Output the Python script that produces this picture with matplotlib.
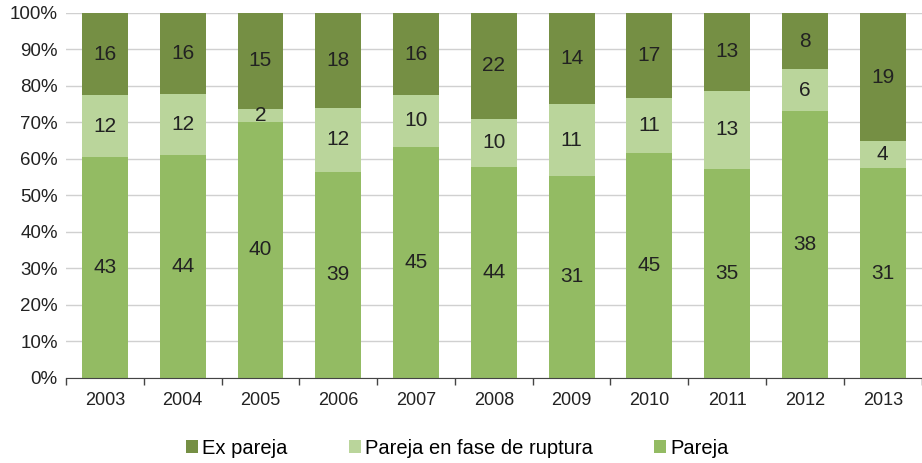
import matplotlib
matplotlib.use("Agg")
import matplotlib.pyplot as plt
import numpy as np

plt.rcParams['font.family'] = ['Liberation Sans', 'DejaVu Sans']

years = ['2003', '2004', '2005', '2006', '2007', '2008', '2009', '2010', '2011', '2012', '2013']
pareja = [43, 44, 40, 39, 45, 44, 31, 45, 35, 38, 31]
ruptura = [12, 12, 2, 12, 10, 10, 11, 11, 13, 6, 4]
ex_pareja = [16, 16, 15, 18, 16, 22, 14, 17, 13, 8, 19]

c_ex = '#758f44'
c_rup = '#bad59b'
c_par = '#93bb63'

p = np.array(pareja, float)
r = np.array(ruptura, float)
e = np.array(ex_pareja, float)
tot = p + r + e
pp, rp, ep = p / tot * 100, r / tot * 100, e / tot * 100

fig = plt.figure(figsize=(9.22, 4.63), dpi=100)
ax = fig.add_axes([0.0716, 0.1836, 0.928, 0.7884])
x = np.arange(len(years))
w = 0.59
b1 = ax.bar(x, pp, w, color=c_par, label='Pareja', zorder=2)
b2 = ax.bar(x, rp, w, bottom=pp, color=c_rup, label='Pareja en fase de ruptura', zorder=2)
b3 = ax.bar(x, ep, w, bottom=pp + rp, color=c_ex, label='Ex pareja', zorder=2)

fs = 15
for bars, vals, bottoms, hts in ((b1, pareja, np.zeros_like(pp), pp), (b2, ruptura, pp, rp), (b3, ex_pareja, pp + rp, ep)):
    for i, v in enumerate(vals):
        ax.text(x[i], bottoms[i] + hts[i] / 2, str(v), ha='center', va='center', fontsize=fs, color='#222222', zorder=3)

ax.set_xlim(-0.5, len(years) - 0.5)
ax.set_ylim(0, 100)
ax.set_yticks(np.arange(0, 101, 10))
ax.set_yticklabels([f'{v}%' for v in range(0, 101, 10)], fontsize=13.5, color='#222222')
ax.yaxis.grid(True, color='#d0d0d0', linewidth=1, zorder=0)
ax.tick_params(axis='y', length=0, pad=6)
ax.set_xticks(x)
ax.set_xticklabels(years, fontsize=13, color='#222222')
ax.set_xticks(np.arange(-0.5, len(years), 1), minor=True)
ax.tick_params(axis='x', which='major', length=0, pad=10)
ax.tick_params(axis='x', which='minor', length=5, color='#444444', width=1)
for s in ('top', 'right', 'left'):
    ax.spines[s].set_visible(False)
ax.spines['bottom'].set_color('#444444')

handles = [b3, b2, b1]
labels = ['Ex pareja', 'Pareja en fase de ruptura', 'Pareja']
fig.legend(handles, labels, loc='center', bbox_to_anchor=(0.4957, 0.032), ncol=3, frameon=False,
           fontsize=14.5, handlelength=0.6, handleheight=0.6, handletextpad=0.2, columnspacing=3.05)

fig.savefig('out.png', dpi=100)
